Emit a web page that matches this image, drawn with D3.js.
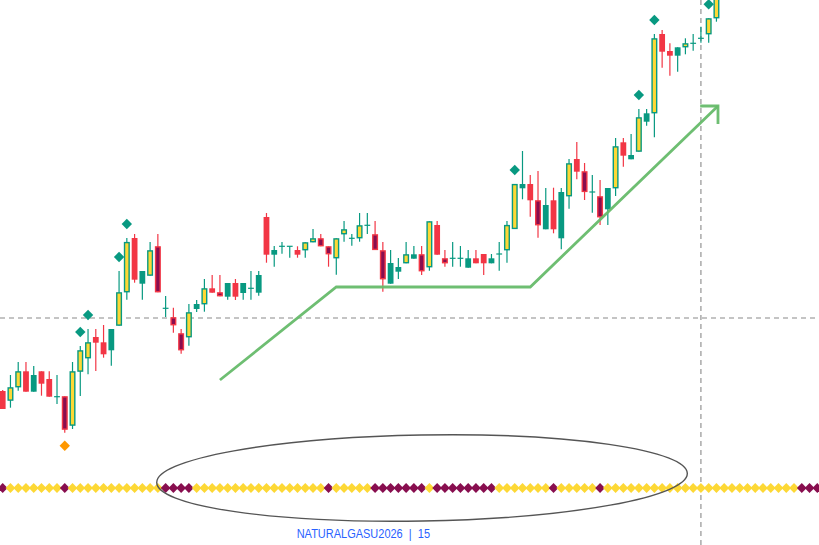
<!DOCTYPE html>
<html><head><meta charset="utf-8">
<script src="https://cdn.jsdelivr.net/npm/d3@7"></script>
<style>html,body{margin:0;padding:0;background:#fff;overflow:hidden}</style>
</head><body><svg id="c" width="819" height="545"></svg>
<script>
// ---- data ----
const opens = [3.609,3.5993,3.6127,3.6287,3.6083,3.6287,3.621,3.6033,3.6037,3.5743,
3.6283,3.6417,3.663,3.6577,3.6497,3.6743,3.7077,3.762,3.7163,3.7243,
3.7537,3.6917,3.6827,3.6667,3.6627,3.691,3.6957,3.7117,3.7077,3.7033,
3.717,3.707,3.7117,3.7073,3.783,3.7453,3.7537,3.7537,3.750,3.7497,
3.7577,3.7617,3.7537,3.7417,3.7657,3.7617,3.7617,3.7747,3.7657,3.7497,
3.7163,3.7283,3.7367,3.7413,3.7457,3.7327,3.775,3.7417,3.7417,3.7417,
3.7323,3.7417,3.746,3.7367,3.746,3.7497,3.771,3.8117,3.816,3.7997,
3.7707,3.7997,3.7617,3.8037,3.841,3.8287,3.808,3.8037,3.7907,3.8117,
3.8577,3.8407,3.8483,3.8783,3.8867,3.966,3.949,3.9443,3.9527,3.9567,
3.9617,3.9657,3.9817];
const highs = [3.610,3.625,3.638,3.638,3.634,3.6287,3.6287,3.625,3.6037,3.638,
3.654,3.671,3.671,3.675,3.671,3.729,3.762,3.766,3.729,3.758,
3.766,3.704,3.6923,3.671,3.696,3.700,3.721,3.725,3.725,3.717,
3.721,3.717,3.729,3.729,3.787,3.754,3.758,3.7537,3.7537,3.7577,
3.771,3.766,3.7537,3.7617,3.779,3.766,3.787,3.787,3.779,3.758,
3.750,3.742,3.758,3.754,3.754,3.7787,3.779,3.750,3.758,3.754,
3.750,3.750,3.746,3.746,3.758,3.779,3.816,3.849,3.825,3.829,
3.812,3.8123,3.812,3.841,3.858,3.837,3.825,3.820,3.812,3.862,
3.862,3.866,3.891,3.891,3.966,3.970,3.9567,3.9527,3.9617,3.966,
3.9733,3.9817,4.010];
const lows = [3.591,3.5923,3.6093,3.6083,3.6083,3.6043,3.6033,3.596,3.5673,3.571,
3.604,3.6257,3.629,3.6423,3.6343,3.6743,3.7003,3.7173,3.7003,3.7243,
3.7077,3.683,3.6673,3.6463,3.6543,3.688,3.6883,3.7073,3.7037,3.7003,
3.700,3.7003,3.7003,3.7043,3.7373,3.7333,3.7463,3.7423,3.7423,3.7423,
3.7577,3.7537,3.7333,3.7253,3.7583,3.7543,3.7583,3.766,3.750,3.7083,
3.7163,3.721,3.7367,3.7413,3.725,3.7293,3.7453,3.7333,3.7333,3.7333,
3.7323,3.7367,3.725,3.7367,3.7293,3.7373,3.771,3.8007,3.7833,3.7623,
3.7707,3.7667,3.7507,3.7913,3.8207,3.800,3.7873,3.775,3.775,3.804,
3.8333,3.8407,3.8483,3.8743,3.8627,3.9323,3.9243,3.9283,3.9457,3.9493,
3.9573,3.9573,3.9783];
const closes = [3.591,3.6127,3.6287,3.6083,3.625,3.6163,3.6033,3.6033,3.5703,3.6287,
3.6497,3.6577,3.6573,3.6457,3.671,3.7077,3.758,3.7203,3.729,3.7497,
3.7077,3.6917,3.6747,3.6497,3.6877,3.696,3.7117,3.7073,3.7037,3.717,
3.7033,3.717,3.7117,3.725,3.7453,3.750,3.7537,3.7537,3.7453,3.7577,
3.7617,3.7537,3.7457,3.7617,3.7707,3.7617,3.7747,3.7747,3.750,3.7207,
3.737,3.733,3.7457,3.7457,3.7287,3.7787,3.7453,3.7367,3.7417,3.7417,
3.7417,3.7367,3.7367,3.7417,3.746,3.775,3.816,3.816,3.7997,3.7747,
3.795,3.7707,3.808,3.8367,3.8283,3.808,3.808,3.7827,3.812,3.8537,
3.8443,3.845,3.8827,3.8867,3.9617,3.9483,3.9443,3.9527,3.9567,3.9567,
3.9617,3.9817,4.008];
// candle colour class: Y yellow-bull, G green-bull, R red-bear, P purple-bear, D doji
const candleKinds = ("RYYRGRRDPY"+"YYRRGYYRGY"+"PDPPYGYRPG"+"RGDGRGDDRY"+"YPPYYDYDPP"+
  "GGYGPYRPDD"+"GRRGDYYGRP"+"GRGYRPDPGY"+"RGYGYRRGYD"+"DYY").split("");
// bottom state row (P purple / Y yellow), extends past the last candle
const stateRow = ("PYYYYYYYPY"+"YYYYYYYYYY"+"YPPPPYYYYY"+"YYYYYYYYYY"+"YYPYYYYYPP"+
  "PPPPPYPPPP"+"PPPPYYYYYY"+"YPYYYYYPYY"+"YYYYYYYYYY"+"YYYYYYYYYY"+"YYYPPP").split("");
const buySignals = [10,11,15,16,66,82,84,91];
const sellSignals = [8];
const arrowPts = [[28,3.620],[43,3.713],[68,3.713],[92.2,3.894]];
const arrowHead = [[89.9,3.894],[92.2,3.894],[92.2,3.876]];
const ellipseSpec = {cx:54.05, cy:3.522, rx:34.2, ry:0.043};
const crossIndex = 90, crossPrice = 3.682;
const statePrice = 3.512;
const labelText = "NATURALGASU2026  |  15";

// ---- drawing ----
const W = 819, H = 545;
const svg = d3.select("#c");
const x = d3.scaleLinear().domain([0,105]).range([2.7,817.3]);
const y = d3.scaleLinear().domain([3.455,4.0]).range([545,0]);
const C = {Y:"#FDD835", G:"#089981", R:"#F23645", P:"#880E4F", O:"#FF9800"};

// crosshair
svg.append("line").attr("x1",0).attr("x2",W).attr("y1",y(crossPrice)).attr("y2",y(crossPrice))
  .attr("stroke","#8a8a8a").attr("stroke-width",1.1).attr("stroke-dasharray","5,4");
svg.append("line").attr("x1",x(crossIndex)).attr("x2",x(crossIndex)).attr("y1",0).attr("y2",H)
  .attr("stroke","#8a8a8a").attr("stroke-width",1.1).attr("stroke-dasharray","5,4");

const data = opens.map((o,i)=>({i,o,h:highs[i],l:lows[i],c:closes[i],k:candleKinds[i]}));
const g = svg.append("g");
const bull = k => k==="Y"||k==="G"||k==="D";
// wicks
g.selectAll("line.w").data(data).join("line").attr("class","w")
  .attr("x1",d=>x(d.i)).attr("x2",d=>x(d.i))
  .attr("y1",d=>y(d.h)).attr("y2",d=>y(d.l))
  .attr("stroke",d=>bull(d.k)?C.G:C.R).attr("stroke-width",1.2);
// bodies
g.selectAll("rect.b").data(data.filter(d=>d.k!=="D")).join("rect").attr("class","b")
  .each(function(d){
    const top = y(Math.max(d.o,d.c)), bot = y(Math.min(d.o,d.c));
    const hgt = Math.max(1, bot-top);
    const sel = d3.select(this);
    if (d.k==="Y"||d.k==="P"){
      sel.attr("x",x(d.i)-2.3).attr("width",4.6).attr("y",top+0.6).attr("height",Math.max(0.5,hgt-1.2))
        .attr("fill",C[d.k]).attr("stroke",d.k==="Y"?C.G:C.R).attr("stroke-width",1.4);
    } else {
      sel.attr("x",x(d.i)-2.9).attr("width",5.8).attr("y",top).attr("height",hgt).attr("fill",C[d.k]);
    }
  });
// doji
g.selectAll("line.d").data(data.filter(d=>d.k==="D")).join("line").attr("class","d")
  .attr("x1",d=>x(d.i)-2.9).attr("x2",d=>x(d.i)+2.9)
  .attr("y1",d=>y(d.o)).attr("y2",d=>y(d.o)).attr("stroke",C.G).attr("stroke-width",1.2);

// diamond helper
const diamond = (w,h)=>`M0,${-h}L${w},0L0,${h}L${-w},0Z`;
svg.selectAll("path.buy").data(buySignals).join("path").attr("class","buy")
  .attr("d",diamond(5.2,5.2)).attr("fill",C.G)
  .attr("transform",i=>`translate(${x(i)},${y(highs[i])-14})`);
svg.selectAll("path.sell").data(sellSignals).join("path").attr("class","sell")
  .attr("d",diamond(5.2,5.2)).attr("fill",C.O)
  .attr("transform",i=>`translate(${x(i)},${y(lows[i])+13})`);

// trend arrow
const ln = d3.line().x(d=>x(d[0])).y(d=>y(d[1]));
svg.append("path").attr("d",ln(arrowPts)).attr("fill","none")
  .attr("stroke","#66BB6A").attr("stroke-opacity",0.95).attr("stroke-width",2.8).attr("stroke-linejoin","miter");
svg.append("path").attr("d",ln(arrowHead)).attr("fill","none")
  .attr("stroke","#66BB6A").attr("stroke-opacity",0.95).attr("stroke-width",2.8).attr("stroke-linecap","butt");

// state row
svg.selectAll("path.st").data(stateRow.map((k,i)=>({k,i}))).join("path").attr("class","st")
  .attr("d",diamond(4.9,5.0)).attr("fill",d=>C[d.k])
  .attr("transform",d=>`translate(${x(d.i)},${y(statePrice)})`);

// ellipse
const ecx = x(ellipseSpec.cx), ecy = y(ellipseSpec.cy);
svg.append("ellipse").attr("cx",ecx).attr("cy",ecy)
  .attr("rx",x(ellipseSpec.rx)-x(0)).attr("ry",y(3.5)-y(3.5+ellipseSpec.ry))
  .attr("transform",`rotate(-1 ${ecx} ${ecy})`)
  .attr("fill","none").attr("stroke","#555").attr("stroke-width",1.4);

// label (single text element)
svg.append("text").attr("x",296.7).attr("y",537.5)
  .attr("font-family","'Liberation Sans', Arial, sans-serif").attr("font-size","12px").attr("fill","#2962FF")
  .style("white-space","pre").attr("xml:space","preserve")
  .attr("textLength",133.3).attr("lengthAdjust","spacingAndGlyphs").text(labelText);
</script></body></html>
